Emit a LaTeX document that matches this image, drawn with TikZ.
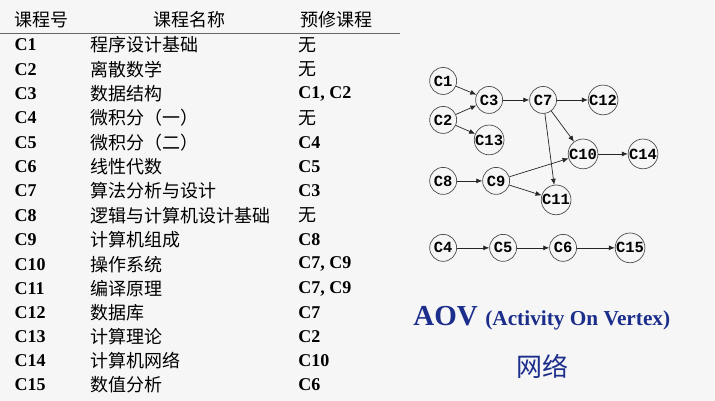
\documentclass[tikz,border=0pt]{standalone}
\usepackage{fontspec}
\setmainfont{Liberation Serif}
\newfontfamily\cjk{Noto Sans CJK SC}
\newfontfamily\mono{Liberation Mono}
\usetikzlibrary{arrows.meta}
\definecolor{aovblue}{RGB}{28,46,140}
\definecolor{pagebg}{RGB}{246,246,246}

\begin{document}
\begin{tikzpicture}[x=1pt, y=-1pt,
  head/.style={anchor=west, inner sep=0pt, font=\fontsize{18}{18}\selectfont\cjk},
  cell/.style={anchor=west, inner sep=0pt, font=\fontsize{18}{18}\selectfont\bfseries},
  cname/.style={anchor=west, inner sep=0pt, font=\fontsize{18}{18}\selectfont\cjk},
  vertex/.style={circle, draw=black!70, fill=pagebg, line width=0.7pt, minimum size=27pt, inner sep=0pt, font=\fontsize{15.5}{15.5}\selectfont\mono\bfseries},
  edge/.style={black!85, line width=0.7pt, -{Latex[length=6pt, width=5pt]}}]
\fill[pagebg] (0,0) rectangle (715,401);
% table
\node[head] (hdid) at (14,20) {课程号};
\node[head] (hdname) at (153,20) {课程名称};
\node[head] (hdpre) at (300,20) {预修课程};
\draw[black!60, line width=0.8pt] (0,33) -- (400,33);
\node[cell] (c1id) at (14,45) {C1}; \node[cname] (c1name) at (90,45) {程序设计基础}; \node[cname] (c1pre) at (298,45) {无};
\node[cell] (c2id) at (14,69.5) {C2}; \node[cname] (c2name) at (90,69.5) {离散数学}; \node[cname] (c2pre) at (298,69.5) {无};
\node[cell] (c3id) at (14,94) {C3}; \node[cname] (c3name) at (90,94) {数据结构}; \node[cell] (c3pre) at (298,94) {C1, C2};
\node[cell] (c4id) at (14,118) {C4}; \node[cname] (c4name) at (90,118) {微积分（一）}; \node[cname] (c4pre) at (298,118) {无};
\node[cell] (c5id) at (14,143) {C5}; \node[cname] (c5name) at (90,143) {微积分（二）}; \node[cell] (c5pre) at (298,143) {C4};
\node[cell] (c6id) at (14,167) {C6}; \node[cname] (c6name) at (90,167) {线性代数}; \node[cell] (c6pre) at (298,167) {C5};
\node[cell] (c7id) at (14,191) {C7}; \node[cname] (c7name) at (90,191) {算法分析与设计}; \node[cell] (c7pre) at (298,191) {C3};
\node[cell] (c8id) at (14,215.5) {C8}; \node[cname] (c8name) at (90,215.5) {逻辑与计算机设计基础}; \node[cname] (c8pre) at (298,215.5) {无};
\node[cell] (c9id) at (14,240) {C9}; \node[cname] (c9name) at (90,240) {计算机组成}; \node[cell] (c9pre) at (298,240) {C8};
\node[cell] (c10id) at (14,264.5) {C10}; \node[cname] (c10name) at (90,264.5) {操作系统}; \node[cell] (c10pre) at (298,264.5) {C7, C9};
\node[cell] (c11id) at (14,289) {C11}; \node[cname] (c11name) at (90,289) {编译原理}; \node[cell] (c11pre) at (298,289) {C7, C9};
\node[cell] (c12id) at (14,313) {C12}; \node[cname] (c12name) at (90,313) {数据库}; \node[cell] (c12pre) at (298,313) {C7};
\node[cell] (c13id) at (14,337) {C13}; \node[cname] (c13name) at (90,337) {计算理论}; \node[cell] (c13pre) at (298,337) {C2};
\node[cell] (c14id) at (14,361) {C14}; \node[cname] (c14name) at (90,361) {计算机网络}; \node[cell] (c14pre) at (298,361) {C10};
\node[cell] (c15id) at (14,385) {C15}; \node[cname] (c15name) at (90,385) {数值分析}; \node[cell] (c15pre) at (298,385) {C6};
% graph
\node[vertex] (C1) at (443,81) {C1};
\node[vertex] (C2) at (443,120) {C2};
\node[vertex] (C3) at (489,100) {C3};
\node[vertex] (C13) at (489,140) {C13};
\node[vertex] (C7) at (543,100) {C7};
\node[vertex] (C12) at (603,100) {C12};
\node[vertex] (C10) at (583,154) {C10};
\node[vertex] (C14) at (643,154) {C14};
\node[vertex] (C8) at (443,181) {C8};
\node[vertex] (C9) at (496,181) {C9};
\node[vertex] (C11) at (556,200) {C11};
\node[vertex] (C4) at (443,248) {C4};
\node[vertex] (C5) at (503,248) {C5};
\node[vertex] (C6) at (563,248) {C6};
\node[vertex] (C15) at (630,248) {C15};
\draw[edge] (C1) -- (C3);
\draw[edge] (C2) -- (C3);
\draw[edge] (C2) -- (C13);
\draw[edge] (C3) -- (C7);
\draw[edge] (C7) -- (C12);
\draw[edge] (C7) -- (C10);
\draw[edge] (C7) -- (C11);
\draw[edge] (C8) -- (C9);
\draw[edge] (C9) -- (C10);
\draw[edge] (C9) -- (C11);
\draw[edge] (C10) -- (C14);
\draw[edge] (C4) -- (C5);
\draw[edge] (C5) -- (C6);
\draw[edge] (C6) -- (C15);
% caption
\node[anchor=base west, inner sep=0pt, text=aovblue, font=\fontsize{29}{29}\selectfont\bfseries] (aov) at (413,326) {AOV};
\node[anchor=base west, inner sep=0pt, text=aovblue, font=\fontsize{21.3}{21.3}\selectfont\bfseries] (aovlong) at (485,326) {(Activity On Vertex)};
\node[inner sep=0pt, text=aovblue, font=\fontsize{26}{26}\selectfont\cjk] (net) at (542,367) {网络};
\end{tikzpicture}
\end{document}
